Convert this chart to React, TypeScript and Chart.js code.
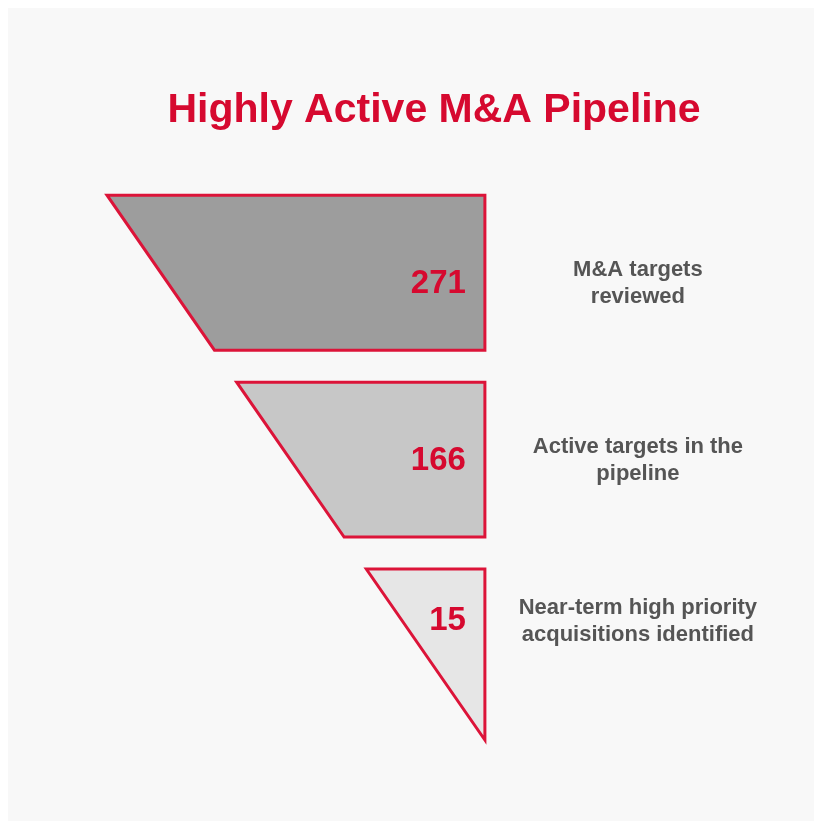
import React, { useEffect, useRef } from "react";
import { Chart, registerables } from "chart.js";

Chart.register(...registerables);

// ---- data ----
const stageKeys = ["Reviewed", "Active", "Near-term"];
const values = [271, 166, 15];
const labelLines = [
  ["M&A targets", "reviewed"],
  ["Active targets in the", "pipeline"],
  ["Near-term high priority", "acquisitions identified"],
];
const titleText = "Highly Active M&A Pipeline";

// ---- styles ----
const FONT = "'Liberation Sans', Arial, Helvetica, sans-serif";
const RED = "#d6092f";
const STROKE = "#dc1439";
const FILLS = ["#9d9d9d", "#c7c7c7", "#e6e6e6"];
const LABEL_COLOR = "#555555";
const SLOPE = 378 / 545; // horizontal px per vertical px of funnel edge
const NUM_DY = [11, 1, 1];

const funnelPlugin = {
  id: "funnelShapes",
  afterDatasetsDraw(chart: any) {
    const ctx = chart.ctx;
    const meta = chart.getDatasetMeta(0);
    const xs = chart.scales.x;
    const rightX = xs.getPixelForValue(0);
    const topLeftX = xs.getPixelForValue(Math.max(...values));
    const first = meta.data[0];
    const topY = first.y - first.height / 2;
    const leftAt = (y: number) => topLeftX + (y - topY) * SLOPE;
    const apexY = topY + (rightX - topLeftX) / SLOPE;
    const n = meta.data.length;

    ctx.save();
    meta.data.forEach((el: any, i: number) => {
      const t = el.y - el.height / 2;
      let b = el.y + el.height / 2;
      const last = i === n - 1;
      if (last || leftAt(b) >= rightX) b = apexY;
      ctx.beginPath();
      ctx.moveTo(rightX, t);
      ctx.lineTo(leftAt(t), t);
      ctx.lineTo(Math.min(leftAt(b), rightX), b);
      ctx.lineTo(rightX, b);
      ctx.closePath();
      ctx.fillStyle = FILLS[i];
      ctx.fill();
      ctx.lineWidth = 3;
      ctx.lineJoin = "miter";
      ctx.strokeStyle = STROKE;
      ctx.stroke();

      const ty = last ? t + 0.3 * (b - t) + NUM_DY[i] : el.y + NUM_DY[i];
      // value
      ctx.font = `bold 33px ${FONT}`;
      ctx.fillStyle = RED;
      ctx.textAlign = "right";
      ctx.textBaseline = "middle";
      ctx.fillText(String(values[i]), rightX - 19, ty);
      // description
      ctx.font = `bold 22px ${FONT}`;
      ctx.fillStyle = LABEL_COLOR;
      ctx.textAlign = "center";
      const lines = labelLines[i];
      const lh = 27.5;
      lines.forEach((ln, j) => {
        ctx.fillText(ln, rightX + 153, ty + (j - (lines.length - 1) / 2) * lh);
      });
    });
    ctx.restore();
  },
};

export default function App() {
  const ref = useRef<HTMLCanvasElement | null>(null);
  useEffect(() => {
    if (!ref.current) return;
    const chart = new Chart(ref.current, {
      type: "bar",
      data: {
        labels: stageKeys,
        datasets: [
          {
            data: values,
            backgroundColor: "rgba(0,0,0,0)",
            borderWidth: 0,
            barPercentage: 1,
            categoryPercentage: 155 / 187,
          },
        ],
      },
      options: {
        indexAxis: "y",
        animation: false,
        responsive: true,
        maintainAspectRatio: false,
        layout: { padding: { left: 46, right: 0, top: 0, bottom: 81 } },
        scales: {
          x: { type: "linear", display: false, reverse: true, min: -236, max: 309 },
          y: { type: "category", display: false },
        },
        plugins: {
          legend: { display: false },
          tooltip: { enabled: false },
          title: {
            display: true,
            text: titleText,
            color: RED,
            font: { family: FONT, size: 41, weight: "bold", lineHeight: 1.2 },
            padding: { top: 80, bottom: 44 },
          },
        },
      },
      plugins: [funnelPlugin],
    });
    return () => chart.destroy();
  }, []);
  return (
    <div style={{ width: 806, height: 815, marginTop: -2, background: "#f8f8f8" }}>
      <canvas ref={ref} />
    </div>
  );
}
